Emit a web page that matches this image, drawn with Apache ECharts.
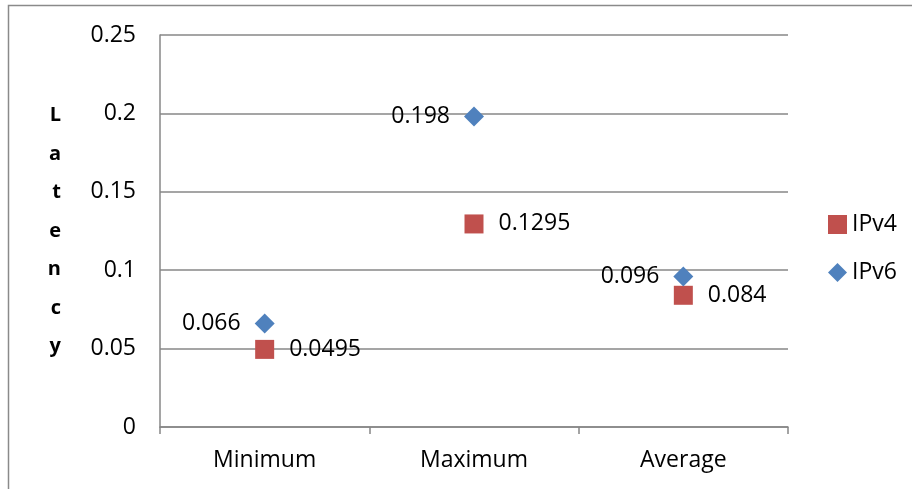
<!DOCTYPE html>
<html>
<head>
<meta charset="utf-8">
<script src="https://cdn.jsdelivr.net/npm/echarts@6/dist/echarts.min.js"></script>
<style>
  html, body { margin: 0; padding: 0; background: #fff; }
  #chart { width: 912px; height: 489px; }
</style>
</head>
<body>
<div id="chart"></div>
<script>
// Latency measurements per statistic
const categories = ['Minimum', 'Maximum', 'Average'];
const ipv4Values = [0.0495, 0.1295, 0.084];
const ipv6Values = [0.066, 0.198, 0.096];
const yTicks = [0, 0.05, 0.1, 0.15, 0.2, 0.25];
const axisTitle = 'Latency';

const FONT = 'Open Sans';
const GRID_COLOR = '#878787';
const TEXT_SIZE = 23;

const chart = echarts.init(document.getElementById('chart'));

chart.setOption({
  animation: false,
  backgroundColor: '#fff',
  textStyle: { fontFamily: FONT },
  graphic: [{
    type: 'rect',
    shape: { x: 8.5, y: 5.5, width: 1000, height: 1000 },
    style: { fill: 'none', stroke: '#8a8a8a', lineWidth: 1.5 },
    silent: true
  }],
  grid: { left: 160, right: 124, top: 35, bottom: 62 },
  legend: {
    orient: 'vertical',
    left: 823,
    top: 208,
    itemGap: 25,
    itemWidth: 19,
    itemHeight: 19,
    itemStyle: { opacity: 1 },
    textStyle: { fontFamily: FONT, fontSize: TEXT_SIZE, color: '#000' },
    data: [
      { name: 'IPv4', icon: 'rect' },
      { name: 'IPv6', icon: 'diamond' }
    ]
  },
  xAxis: {
    type: 'category',
    data: categories,
    boundaryGap: true,
    axisLine: { lineStyle: { color: GRID_COLOR, width: 1.5 } },
    axisTick: { show: true, length: 7, lineStyle: { color: GRID_COLOR, width: 1.5 } },
    axisLabel: { color: '#000', fontSize: TEXT_SIZE, fontFamily: FONT, margin: 22 },
    splitLine: { show: false }
  },
  yAxis: {
    type: 'value',
    min: yTicks[0],
    max: yTicks[yTicks.length - 1],
    interval: yTicks[1] - yTicks[0],
    name: axisTitle.split('').join('\n'),
    nameLocation: 'middle',
    nameRotate: 0,
    nameGap: 99,
    nameTextStyle: { fontFamily: FONT, fontSize: 20, fontWeight: 'bold', color: '#000', lineHeight: 38.5 },
    axisLine: { show: true, lineStyle: { color: GRID_COLOR, width: 1.5 } },
    axisTick: { show: false },
    axisLabel: {
      color: '#000', fontSize: TEXT_SIZE, fontFamily: FONT, margin: 24,
      formatter: v => String(+v.toFixed(2))
    },
    splitLine: { lineStyle: { color: GRID_COLOR, width: 1.5 } }
  },
  series: [
    {
      name: 'IPv4',
      type: 'scatter',
      symbol: 'rect',
      symbolSize: 19,
      data: ipv4Values,
      itemStyle: { color: '#C0504D', opacity: 1 },
      label: {
        show: true,
        position: 'right',
        distance: 15,
        color: '#000',
        fontSize: TEXT_SIZE,
        fontFamily: FONT,
        formatter: p => String(p.value)
      }
    },
    {
      name: 'IPv6',
      type: 'scatter',
      symbol: 'diamond',
      symbolSize: 20,
      data: ipv6Values,
      itemStyle: { color: '#4F81BD', opacity: 1 },
      label: {
        show: true,
        position: 'left',
        distance: 14,
        color: '#000',
        fontSize: TEXT_SIZE,
        fontFamily: FONT,
        formatter: p => String(p.value)
      }
    }
  ]
});
</script>
</body>
</html>
